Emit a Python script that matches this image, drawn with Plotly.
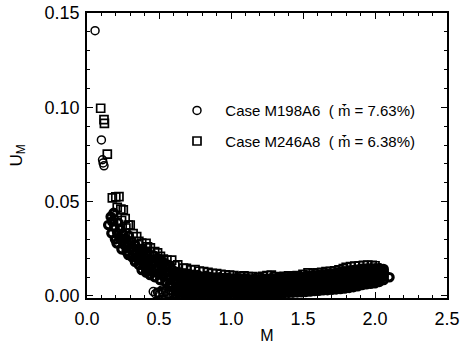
import plotly.graph_objects as go

# ---------------- data ----------------
# Case M198A6 (circles): isolated high points
circ_top_M = [0.056, 0.100, 0.108, 0.112, 0.118]
circ_top_U = [0.1406, 0.0827, 0.0722, 0.0705, 0.0690]

# Case M198A6 (circles): near-zero points around M = 0.5
circ_low_M = [0.460, 0.475, 0.490, 0.505, 0.520, 0.530, 0.545, 0.560, 0.575, 0.590, 0.600]
circ_low_U = [0.0023, 0.0012, 0.0020, 0.0010, 0.0032, 0.0015, 0.0025, 0.0012, 0.0030, 0.0018, 0.0025]

# Case M198A6 (circles): low-Mach part of the cloud
circ_M = [0.148, 0.165, 0.170, 0.175, 0.185, 0.190, 0.195, 0.206, 0.210, 0.215,
          0.225, 0.230, 0.240, 0.245, 0.250, 0.260, 0.265, 0.275, 0.280, 0.287,
          0.290, 0.300, 0.310, 0.315, 0.320, 0.333, 0.335, 0.340, 0.350, 0.355,
          0.360, 0.370, 0.380, 0.380, 0.385, 0.395, 0.400, 0.410, 0.415, 0.420,
          0.430, 0.4375, 0.440, 0.450, 0.455, 0.460, 0.470, 0.475, 0.480, 0.490,
          0.495, 0.507, 0.510, 0.515, 0.520, 0.530, 0.535, 0.545, 0.550, 0.555,
          0.565, 0.570, 0.575, 0.588, 0.590, 0.595, 0.600]
circ_U = [0.0376, 0.0420, 0.0332, 0.0395, 0.0440, 0.0365, 0.0300, 0.0279, 0.0335, 0.0390,
          0.0310, 0.0355, 0.0247, 0.0290, 0.0330, 0.0270, 0.0305, 0.0235, 0.0280, 0.0217,
          0.0320, 0.0255, 0.0290, 0.0205, 0.0240, 0.0182, 0.0270, 0.0225, 0.0200, 0.0250,
          0.0165, 0.0215, 0.0138, 0.0185, 0.0235, 0.0160, 0.0205, 0.0125, 0.0180, 0.0225,
          0.0145, 0.0111, 0.0195, 0.0165, 0.0130, 0.0215, 0.0100, 0.0180, 0.0145, 0.0200,
          0.0120, 0.0085, 0.0165, 0.0190, 0.0135, 0.0105, 0.0175, 0.0075, 0.0150, 0.0125,
          0.0165, 0.0095, 0.0060, 0.0049, 0.0140, 0.0115, 0.0080]

# Case M198A6 (circles): dense band, one column of readings per Mach number
circ_col_M = [0.62, 0.65, 0.68, 0.71, 0.74, 0.77, 0.80, 0.83, 0.86, 0.89,
              0.92, 0.95, 0.98, 1.01, 1.04, 1.07, 1.10, 1.13, 1.16, 1.19,
              1.22, 1.25, 1.28, 1.31, 1.34, 1.37, 1.40, 1.43, 1.46, 1.49,
              1.52, 1.55, 1.58, 1.61, 1.64, 1.67, 1.70, 1.73, 1.76, 1.79,
              1.82, 1.85, 1.88, 1.91, 1.94, 1.97, 2.00, 2.03, 2.06, 2.10]
circ_col_U = [
    [0.0005, 0.0026, 0.0044, 0.0069, 0.0088, 0.0111, 0.0128],
    [0.0000, 0.0021, 0.0041, 0.0058, 0.0083, 0.0101, 0.0123],
    [0.0004, 0.0024, 0.0046, 0.0066, 0.0084, 0.0106, 0.0119],
    [0.0000, 0.0018, 0.0039, 0.0059, 0.0081, 0.0097, 0.0116],
    [0.0006, 0.0025, 0.0044, 0.0066, 0.0086, 0.0104, 0.0112],
    [0.0000, 0.0021, 0.0040, 0.0059, 0.0079, 0.0098, 0.0110],
    [0.0005, 0.0024, 0.0046, 0.0064, 0.0086, 0.0101],
    [0.0000, 0.0020, 0.0041, 0.0061, 0.0077, 0.0095, 0.0106],
    [0.0004, 0.0023, 0.0042, 0.0063, 0.0081, 0.0100],
    [0.0000, 0.0019, 0.0040, 0.0059, 0.0078, 0.0097],
    [0.0005, 0.0025, 0.0044, 0.0066, 0.0083, 0.0098],
    [0.0000, 0.0021, 0.0039, 0.0060, 0.0077, 0.0094],
    [0.0005, 0.0024, 0.0045, 0.0063, 0.0082, 0.0096],
    [0.0000, 0.0020, 0.0041, 0.0060, 0.0079, 0.0092],
    [0.0005, 0.0026, 0.0045, 0.0064, 0.0082, 0.0094],
    [0.0000, 0.0019, 0.0040, 0.0061, 0.0076, 0.0090],
    [0.0005, 0.0024, 0.0043, 0.0064, 0.0080, 0.0092],
    [0.0003, 0.0021, 0.0040, 0.0059, 0.0076, 0.0088],
    [0.0006, 0.0025, 0.0046, 0.0064, 0.0080, 0.0090],
    [0.0008, 0.0026, 0.0044, 0.0062, 0.0078, 0.0088],
    [0.0008, 0.0025, 0.0045, 0.0065, 0.0081, 0.0092],
    [0.0010, 0.0028, 0.0047, 0.0064, 0.0080, 0.0091],
    [0.0012, 0.0030, 0.0048, 0.0066, 0.0082, 0.0094],
    [0.0014, 0.0032, 0.0050, 0.0067, 0.0084, 0.0092],
    [0.0015, 0.0033, 0.0051, 0.0069, 0.0085, 0.0093],
    [0.0016, 0.0034, 0.0052, 0.0070, 0.0086, 0.0095],
    [0.0017, 0.0035, 0.0053, 0.0071, 0.0087, 0.0096],
    [0.0018, 0.0036, 0.0055, 0.0072, 0.0088, 0.0097],
    [0.0019, 0.0037, 0.0055, 0.0073, 0.0090, 0.0099],
    [0.0020, 0.0038, 0.0057, 0.0074, 0.0091, 0.0102],
    [0.0022, 0.0040, 0.0058, 0.0076, 0.0093, 0.0105],
    [0.0024, 0.0042, 0.0060, 0.0078, 0.0095, 0.0107],
    [0.0026, 0.0044, 0.0062, 0.0080, 0.0097, 0.0109],
    [0.0028, 0.0046, 0.0064, 0.0082, 0.0099, 0.0111],
    [0.0030, 0.0048, 0.0066, 0.0084, 0.0101, 0.0114],
    [0.0031, 0.0049, 0.0067, 0.0085, 0.0103, 0.0117],
    [0.0033, 0.0051, 0.0069, 0.0087, 0.0105, 0.0119],
    [0.0035, 0.0053, 0.0071, 0.0089, 0.0107, 0.0122],
    [0.0037, 0.0055, 0.0073, 0.0091, 0.0110, 0.0126],
    [0.0040, 0.0058, 0.0076, 0.0094, 0.0112, 0.0130],
    [0.0043, 0.0061, 0.0079, 0.0097, 0.0115, 0.0134],
    [0.0047, 0.0065, 0.0083, 0.0101, 0.0119, 0.0137],
    [0.0052, 0.0070, 0.0088, 0.0106, 0.0122, 0.0140],
    [0.0058, 0.0075, 0.0092, 0.0110, 0.0126, 0.0143],
    [0.0062, 0.0079, 0.0096, 0.0113, 0.0129, 0.0145],
    [0.0065, 0.0082, 0.0099, 0.0116, 0.0131, 0.0146],
    [0.0068, 0.0085, 0.0102, 0.0118, 0.0133, 0.0146],
    [0.0075, 0.0092, 0.0108, 0.0122, 0.0136, 0.0148],
    [0.0085, 0.0102, 0.0118, 0.0130, 0.0142],
    [0.0099],
]

# Case M246A8 (squares)
sq_M = [0.095, 0.118, 0.121, 0.141, 0.176, 0.200, 0.222,
        0.210, 0.235, 0.252, 0.240, 0.265, 0.270, 0.287, 0.300, 0.320, 0.345,
        0.360, 0.380, 0.410, 0.420, 0.440, 0.470, 0.490, 0.510, 0.530, 0.555,
        0.588, 0.610, 0.630, 0.670, 0.690, 0.720, 0.750, 0.780, 0.810, 0.840,
        0.870, 0.900, 0.930, 0.960, 0.990, 1.020, 1.060, 1.090, 1.120, 1.150,
        1.190, 1.220, 1.250, 1.280, 1.310, 1.340, 1.370, 1.400, 1.430, 1.460,
        1.500, 1.535, 1.570, 1.600, 1.630, 1.660, 1.690, 1.720, 1.750, 1.780,
        1.800, 1.830, 1.860, 1.890, 1.920, 1.950, 1.980, 2.000,
        0.330, 0.370, 0.410, 0.450, 0.500, 0.540, 0.580, 0.620, 0.660, 0.700,
        0.740, 0.780, 0.820, 0.860, 0.900, 0.950, 1.000, 1.050, 1.100, 1.150,
        1.200, 1.250, 1.300, 1.350, 1.400, 1.450, 1.500, 1.550, 1.600, 1.650,
        1.700, 1.750, 1.800, 1.850, 1.900, 1.950,
        0.500, 0.530, 0.570, 0.600, 0.640]
sq_U = [0.0995, 0.0935, 0.0915, 0.0752, 0.0520, 0.0525, 0.0526,
        0.0470, 0.0460, 0.0456, 0.0400, 0.0410, 0.0360, 0.0375, 0.0376, 0.0330, 0.0314,
        0.0290, 0.0280, 0.0279, 0.0260, 0.0255, 0.0235, 0.0228, 0.0210, 0.0195, 0.0190,
        0.0190, 0.0160, 0.0165, 0.0147, 0.0146, 0.0138, 0.0140, 0.0132, 0.0129, 0.0125,
        0.0120, 0.0118, 0.0115, 0.0112, 0.0110, 0.0108, 0.0102, 0.0106, 0.0102, 0.0102,
        0.0098, 0.0104, 0.0108, 0.0110, 0.0102, 0.0098, 0.0104, 0.0106, 0.0102, 0.0108,
        0.0115, 0.0122, 0.0118, 0.0122, 0.0125, 0.0129, 0.0130, 0.0133, 0.0138, 0.0145,
        0.0152, 0.0155, 0.0158, 0.0160, 0.0162, 0.0163, 0.0162, 0.0160,
        0.0270, 0.0250, 0.0230, 0.0210, 0.0180, 0.0160, 0.0140, 0.0125, 0.0120, 0.0110,
        0.0105, 0.0100, 0.0097, 0.0094, 0.0092, 0.0090, 0.0088, 0.0086, 0.0085, 0.0084,
        0.0085, 0.0087, 0.0088, 0.0089, 0.0090, 0.0092, 0.0095, 0.0098, 0.0102, 0.0106,
        0.0110, 0.0116, 0.0124, 0.0132, 0.0138, 0.0142,
        0.0018, 0.0022, 0.0015, 0.0028, 0.0020]

x_tickvals = [0.0, 0.5, 1.0, 1.5, 2.0, 2.5]
x_ticktext = ["0.0", "0.5", "1.0", "1.5", "2.0", "2.5"]
y_tickvals = [0.00, 0.05, 0.10, 0.15]
y_ticktext = ["0.00", "0.05", "0.10", "0.15"]

name_a = "\u00a0\u00a0Case M198A6  ( \u1e41\u0304 = 7.63%)"
name_b = "\u00a0\u00a0Case M246A8  ( \u1e41\u0304 = 6.38%)"

# ---------------- build ----------------
band_M = list(circ_M)
band_U = list(circ_U)
for m, col in zip(circ_col_M, circ_col_U):
    for u in col:
        band_M.append(m)
        band_U.append(u)

FONT = "Liberation Sans, Arial, Helvetica, sans-serif"
circ_marker = dict(symbol="circle-open", size=8, color="black", line=dict(width=1.5, color="black"))

fig = go.Figure()
fig.add_trace(go.Scatter(
    x=circ_top_M, y=circ_top_U, mode="markers", name=name_a, legendgroup="a",
    marker=circ_marker,
))
fig.add_trace(go.Scatter(
    x=circ_low_M, y=circ_low_U, mode="markers", name=name_a, legendgroup="a", showlegend=False,
    marker=circ_marker,
))
fig.add_trace(go.Scatter(
    x=band_M, y=band_U, mode="markers", name=name_a, legendgroup="a", showlegend=False,
    marker=dict(symbol="circle-open", size=7.5, color="black", line=dict(width=3.2, color="black")),
))
fig.add_trace(go.Scatter(
    x=sq_M, y=sq_U, mode="markers", name=name_b, legendgroup="b",
    marker=dict(symbol="square-open", size=8, color="black", line=dict(width=1.7, color="black")),
))

axis_common = dict(
    showline=True, linecolor="black", linewidth=1.5, mirror="ticks",
    ticks="inside", ticklen=6, tickwidth=1.2, tickcolor="black",
    showgrid=False, zeroline=False, automargin=False,
    tickfont=dict(family=FONT, size=18, color="black"),
)

fig.update_layout(
    width=462, height=345,
    margin=dict(l=87, r=15, t=13, b=47),
    paper_bgcolor="white", plot_bgcolor="white",
    font=dict(family=FONT, color="black"),
    showlegend=True,
    legend=dict(
        x=0.25, y=0.715, xanchor="left", yanchor="top",
        bgcolor="rgba(0,0,0,0)", borderwidth=0,
        font=dict(family=FONT, size=15, color="black"),
        tracegroupgap=8,
    ),
)
fig.update_xaxes(
    range=[0, 2.5], tickvals=x_tickvals, ticktext=x_ticktext,
    minor=dict(ticks="inside", ticklen=3, dtick=0.1, tick0=0, tickcolor="black", showgrid=False),
    title=dict(text="M", font=dict(family=FONT, size=16, color="black"), standoff=1),
    ticklabelstandoff=4,
    **axis_common,
)
fig.update_yaxes(
    range=[-0.0011, 0.15], tickvals=y_tickvals, ticktext=y_ticktext,
    minor=dict(ticks="inside", ticklen=3, dtick=0.01, tick0=0, tickcolor="black", showgrid=False),
    title=dict(text="U<sub>M</sub>", font=dict(family=FONT, size=17, color="black"), standoff=18),
    ticklabelstandoff=2,
    **axis_common,
)

fig.write_html("out.html")
